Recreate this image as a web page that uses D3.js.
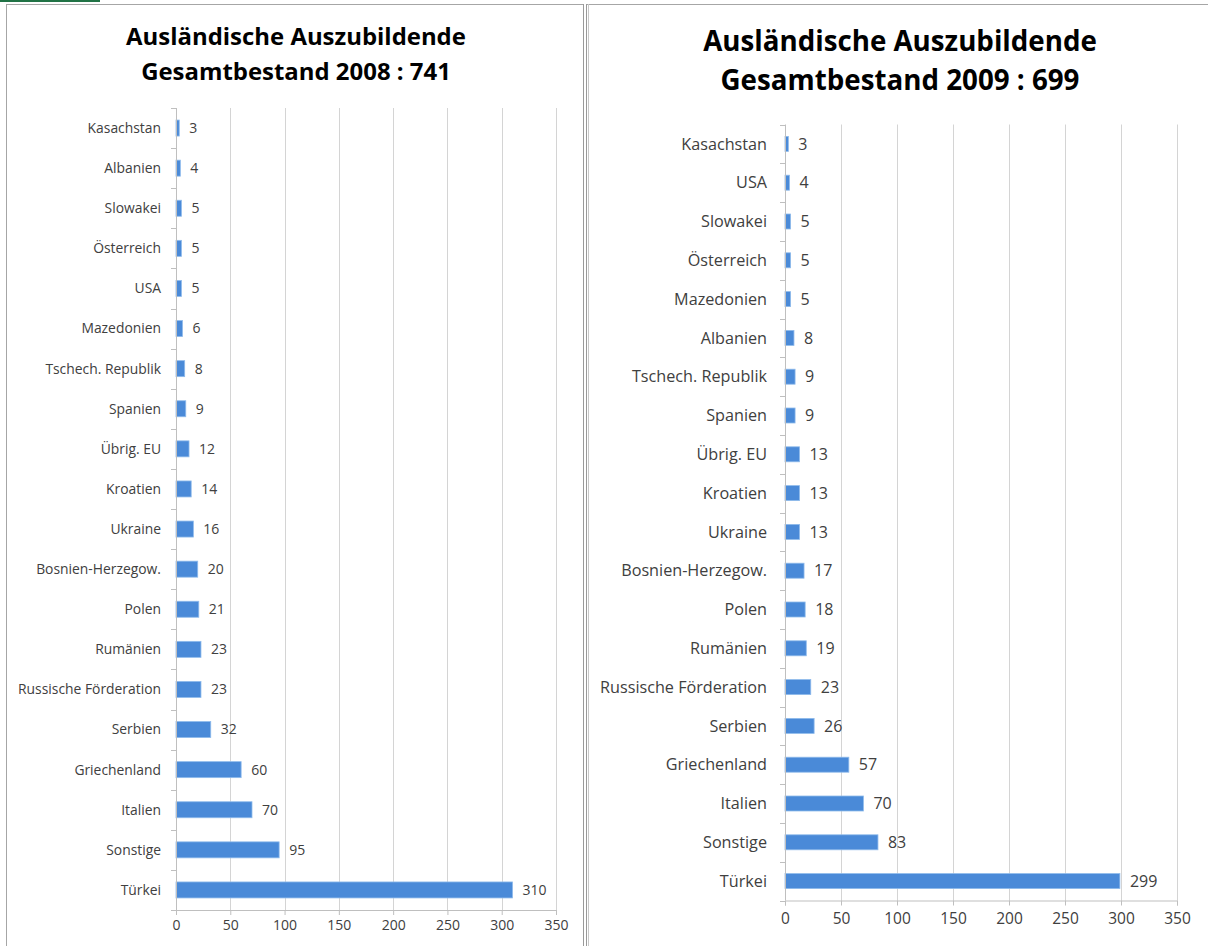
<!DOCTYPE html>
<html><head><meta charset="utf-8">
<script src="https://cdn.jsdelivr.net/npm/d3@7"></script>
<style>
html,body{margin:0;padding:0;background:#fff;}
svg{display:block;}
text{font-family:"Open Sans","Noto Sans","DejaVu Sans",sans-serif;fill:#404040;}
</style></head>
<body>
<svg id="c" width="1208" height="946"></svg>
<script>
// ---- data ----
const categories2008 = ["Kasachstan","Albanien","Slowakei","Österreich","USA","Mazedonien","Tschech. Republik","Spanien","Übrig. EU","Kroatien","Ukraine","Bosnien-Herzegow.","Polen","Rumänien","Russische Förderation","Serbien","Griechenland","Italien","Sonstige","Türkei"];
const values2008 = [3,4,5,5,5,6,8,9,12,14,16,20,21,23,23,32,60,70,95,310];
const categories2009 = ["Kasachstan","USA","Slowakei","Österreich","Mazedonien","Albanien","Tschech. Republik","Spanien","Übrig. EU","Kroatien","Ukraine","Bosnien-Herzegow.","Polen","Rumänien","Russische Förderation","Serbien","Griechenland","Italien","Sonstige","Türkei"];
const values2009 = [3,4,5,5,5,8,9,9,13,13,13,17,18,19,23,26,57,70,83,299];
const tickValues = [0,50,100,150,200,250,300,350];
const titles2008 = ["Ausländische Auszubildende","Gesamtbestand 2008 : 741"];
const titles2009 = ["Ausländische Auszubildende","Gesamtbestand 2009 : 699"];

const svg = d3.select("#c");

// frames
svg.append("rect").attr("x",0).attr("y",0).attr("width",100).attr("height",2).attr("fill","#217346");
svg.append("line").attr("x1",6).attr("x2",584).attr("y1",4.5).attr("y2",4.5).attr("stroke","#a6a6a6");
svg.append("line").attr("x1",6.5).attr("x2",6.5).attr("y1",4).attr("y2",946).attr("stroke","#a6a6a6");
svg.append("line").attr("x1",583.5).attr("x2",583.5).attr("y1",4).attr("y2",946).attr("stroke","#9a9a9a");
svg.append("line").attr("x1",586.5).attr("x2",586.5).attr("y1",4).attr("y2",946).attr("stroke","#9a9a9a");
svg.append("line").attr("x1",587).attr("x2",1208).attr("y1",4.5).attr("y2",4.5).attr("stroke","#a6a6a6");
svg.append("line").attr("x1",588.5).attr("x2",588.5).attr("y1",4).attr("y2",946).attr("stroke","#c8c8c8");

function fitText(sel, target){
  const w = sel.node().getComputedTextLength();
  const fs = parseFloat(sel.attr("font-size"));
  sel.attr("font-size", fs*target/w);
  return fs*target/w;
}

function drawChart(cfg){
  const g = svg.append("g");
  // title
  const t1 = g.append("text").attr("x",cfg.titleX).attr("y",cfg.titleY[0]).attr("text-anchor","middle")
    .attr("font-weight","bold").attr("font-size",24).style("fill","#000").text(cfg.titles[0]);
  const fs = fitText(t1, cfg.titleW);
  g.append("text").attr("x",cfg.titleX).attr("y",cfg.titleY[1]).attr("text-anchor","middle")
    .attr("font-weight","bold").attr("font-size",fs).style("fill","#000").text(cfg.titles[1]);

  const x = d3.scaleLinear().domain([0,350]).range([cfg.x0,cfg.x1]);
  const y = d3.scaleBand().domain(cfg.cats).range([cfg.top,cfg.bottom]);

  // gridlines
  g.append("g").selectAll("line").data(tickValues.slice(1)).join("line")
    .attr("x1",d=>Math.round(x(d))+0.5).attr("x2",d=>Math.round(x(d))+0.5)
    .attr("y1",cfg.top).attr("y2",cfg.bottom).attr("stroke","#d4d4d4");

  // bars
  g.append("g").selectAll("rect").data(cfg.vals).join("rect")
    .attr("x",x(0)).attr("y",(d,i)=>y(cfg.cats[i])+y.bandwidth()/2-cfg.barH/2)
    .attr("width",d=>x(d)-x(0)).attr("height",cfg.barH)
    .attr("fill","#4a8ad8").attr("stroke","#8fbbec").attr("stroke-width",0.8);

  // value labels
  g.append("g").selectAll("text").data(cfg.vals).join("text")
    .attr("x",d=>x(d)+cfg.valGap).attr("y",(d,i)=>y(cfg.cats[i])+y.bandwidth()/2)
    .attr("dy","0.35em").attr("font-size",cfg.valFs).text(d=>d);

  // category labels
  const labs = g.append("g").selectAll("text").data(cfg.cats).join("text")
    .attr("x",x(0)-cfg.labGap).attr("y",d=>y(d)+y.bandwidth()/2).attr("dy","0.35em")
    .attr("text-anchor","end").attr("font-size",14).text(d=>d);
  const ref = labs.filter(d=>d==="Russische Förderation");
  const lfs = fitText(ref, cfg.labW);
  labs.attr("font-size",lfs);

  // y axis with ticks at band boundaries
  const yAxisG = g.append("g");
  yAxisG.append("line").attr("x1",Math.round(x(0))+0.5).attr("x2",Math.round(x(0))+0.5)
    .attr("y1",cfg.top).attr("y2",cfg.bottom).attr("stroke","#bfbfbf");
  const bounds = cfg.cats.map(c=>y(c)).concat([cfg.bottom]);
  yAxisG.selectAll("line.t").data(bounds).join("line").attr("class","t")
    .attr("x1",Math.round(x(0))-5).attr("x2",Math.round(x(0)))
    .attr("y1",d=>Math.round(d)+0.5).attr("y2",d=>Math.round(d)+0.5).attr("stroke","#bfbfbf");

  // x axis
  const xa = d3.axisBottom(x).tickValues(tickValues).tickSize(5).tickPadding(cfg.tickPad);
  const xg = g.append("g").attr("transform",`translate(0,${cfg.bottom})`).call(xa);
  xg.select(".domain").attr("stroke","#bfbfbf");
  xg.selectAll(".tick line").attr("stroke","#bfbfbf");
  xg.selectAll(".tick text").attr("font-size",cfg.tickFs).style("fill","#404040")
    .attr("font-family",'"Open Sans","Noto Sans",sans-serif');
}

drawChart({cats:categories2008, vals:values2008, titles:titles2008,
  titleX:296, titleY:[45,80], titleW:340,
  x0:176, x1:556, top:108, bottom:910, barH:16,
  valGap:10, valFs:14, labGap:15, labW:143, tickPad:5, tickFs:14});

drawChart({cats:categories2009, vals:values2009, titles:titles2009,
  titleX:900, titleY:[51,90], titleW:394,
  x0:785, x1:1177, top:124.5, bottom:900.5, barH:15,
  valGap:10, valFs:16, labGap:18, labW:167, tickPad:7, tickFs:15.5});
</script>
</body></html>
